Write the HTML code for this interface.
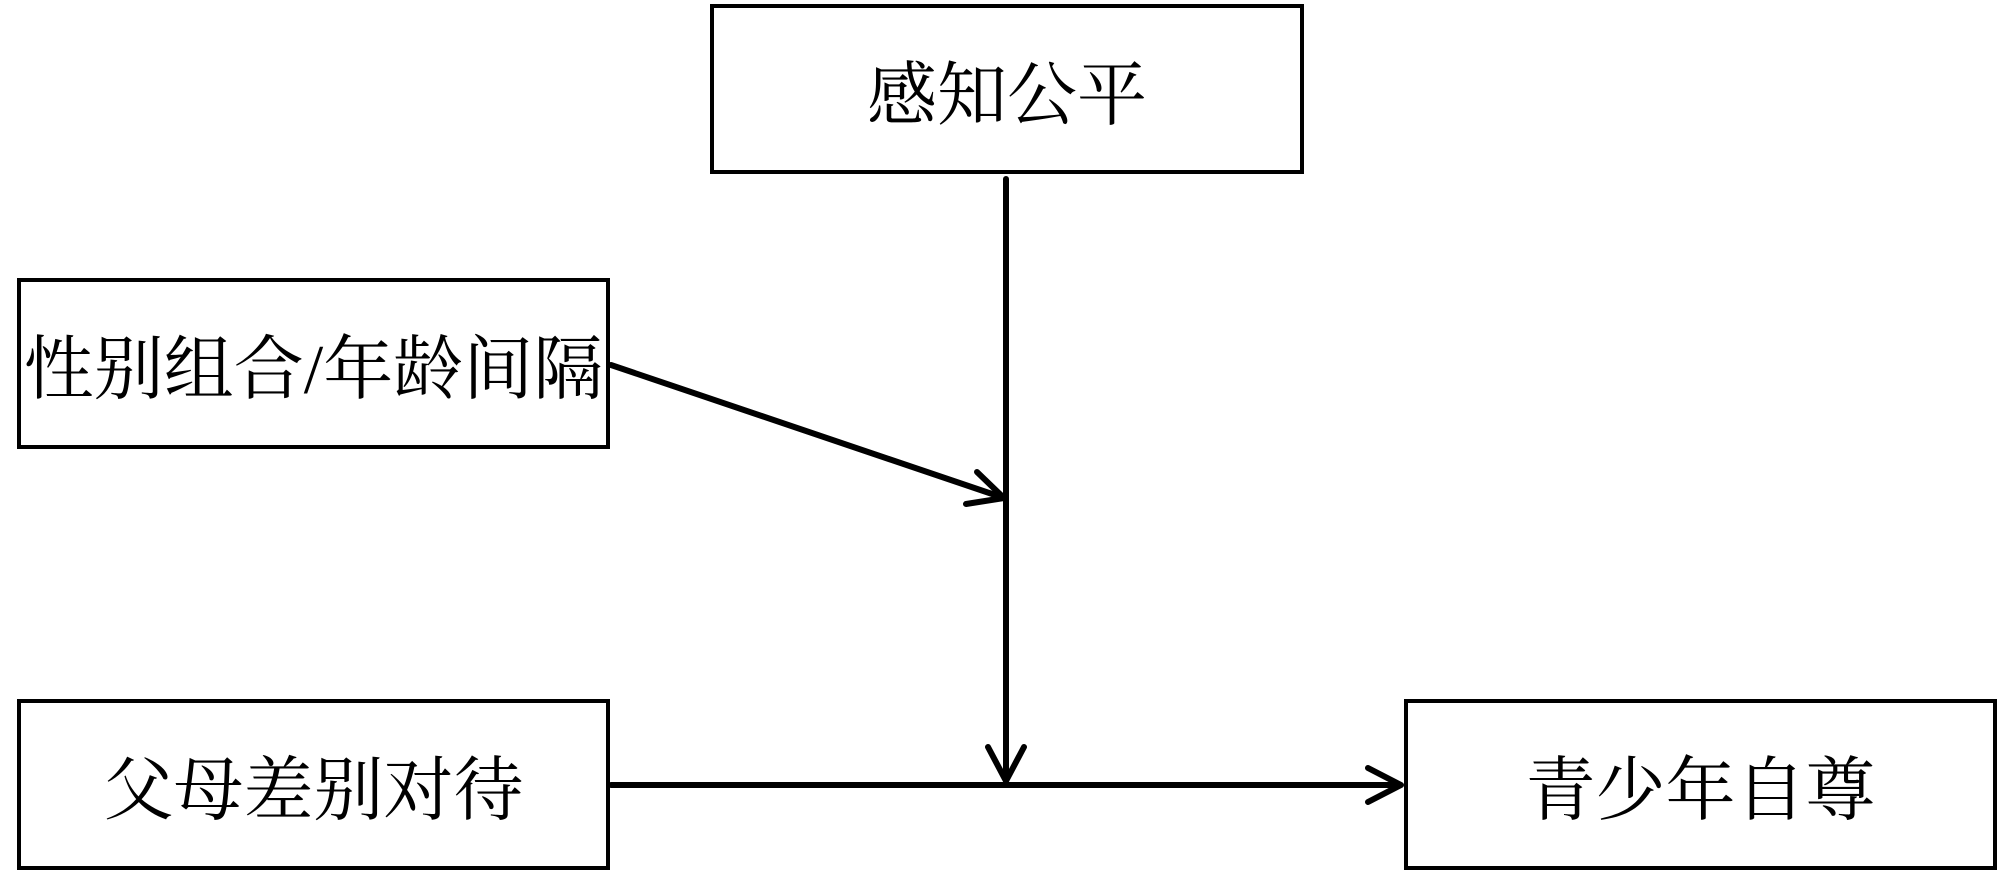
<!DOCTYPE html>
<html><head><meta charset="utf-8"><style>
html,body{margin:0;padding:0;background:#fff;}
body{width:2000px;height:875px;position:relative;overflow:hidden;}
.b{position:absolute;border:4px solid #000;box-sizing:border-box;display:flex;align-items:center;justify-content:center;font-family:"Liberation Serif","Noto Serif CJK SC",serif;font-size:70px;color:#000;background:#fff;}
svg{position:absolute;left:0;top:0;}
</style></head><body>
<div class="b" style="left:710px;top:4px;width:594px;height:170px;">感知公平</div>
<div class="b" style="left:17px;top:278px;width:593px;height:171px;">性别组合/年龄间隔</div>
<div class="b" style="left:17px;top:699px;width:593px;height:171px;">父母差别对待</div>
<div class="b" style="left:1404px;top:699px;width:593px;height:171px;">青少年自尊</div>
<svg width="2000" height="875" viewBox="0 0 2000 875">
<g stroke="#000" stroke-width="6" fill="none" stroke-linecap="round" stroke-linejoin="round">
<line x1="1006" y1="179" x2="1006" y2="780"/>
<polyline points="988,747 1006,781 1024,747"/>
<line x1="611" y1="365" x2="1004" y2="498"/>
<polyline points="977,472 1004,498 966,504"/>
<line x1="611" y1="785" x2="1400" y2="785"/>
<polyline points="1368,768 1401,785 1368,802"/>
</g>
</svg>
</body></html>
